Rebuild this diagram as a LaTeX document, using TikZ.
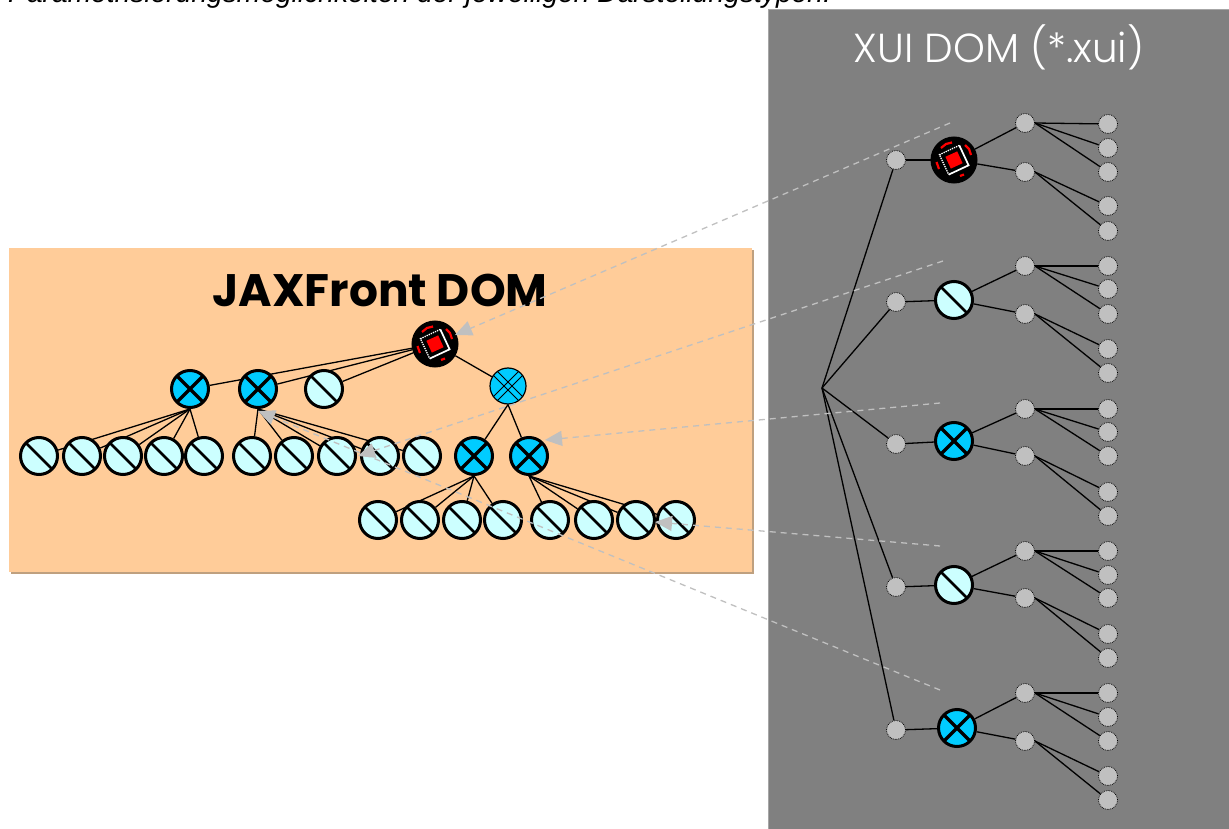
\documentclass[tikz,border=0pt]{standalone}
\usepackage{fontspec}
\setmainfont{Liberation Sans}
\newfontfamily\headfont{Poppins}
\newfontfamily\panelfont{Poppins Light}
\usetikzlibrary{arrows.meta}
\pgfdeclarelayer{back}
\pgfdeclarelayer{edge}
\pgfdeclarelayer{top}
\pgfsetlayers{back,edge,main,top}
\definecolor{peach}{HTML}{FFCC99}
\definecolor{peachshadow}{HTML}{BFA07F}
\definecolor{panelgray}{HTML}{808080}
\definecolor{paneledge}{HTML}{A6A6A6}
\definecolor{pale}{HTML}{CCFFFF}
\definecolor{sky}{HTML}{00CCFF}
\definecolor{dotgray}{HTML}{C0C0C0}
\tikzset{
  x=1pt,y=-1pt,
  roundn/.style={circle,inner sep=0pt,minimum size=37pt,draw=black,line width=3pt},
  slashn/.style={roundn,fill=pale,path picture={
    \begin{scope}[shift={(path picture bounding box.center)}]
      \draw[line width=2.6pt] (-13pt,13pt)--(13pt,-13pt);
    \end{scope}}},
  crossn/.style={roundn,fill=sky,path picture={
    \begin{scope}[shift={(path picture bounding box.center)}]
      \draw[line width=3.4pt] (-13pt,13pt)--(13pt,-13pt) (-13pt,-13pt)--(13pt,13pt);
    \end{scope}}},
  hatchn/.style={circle,inner sep=0pt,minimum size=36pt,draw=black,line width=1.2pt,fill=sky,path picture={
    \begin{scope}[shift={(path picture bounding box.center)}]
      \draw[line width=.8pt] (-16pt,12pt)--(12pt,-16pt) (-12pt,16pt)--(16pt,-12pt)
        (-16pt,-12pt)--(12pt,16pt) (-12pt,-16pt)--(16pt,12pt);
    \end{scope}}},
  rootn/.style={circle,inner sep=0pt,minimum size=44pt,draw=black,line width=3pt,fill=black,path picture={
    \begin{scope}[shift={(path picture bounding box.center)}]
      \draw[red,line width=2.2pt] (-13pt,12pt) -- (-8pt,16pt) -- (-2pt,17.5pt)
        (11pt,15pt) -- (15pt,11pt) -- (17pt,5pt)
        (-17.5pt,-2pt) -- (-15pt,-9pt)
        (6pt,-16pt) -- (10pt,-14.5pt);
      \draw[white,line width=1.7pt] (5.3pt,14.6pt) -- (14.6pt,-5.3pt) -- (-5.3pt,-14.6pt);
      \draw[white,line width=1.3pt,densely dotted] (5.3pt,14.6pt) -- (-14.6pt,5.3pt) -- (-5.3pt,-14.6pt);
      \fill[red] (3.2pt,8.6pt) -- (8.6pt,-3.2pt) -- (-3.2pt,-8.6pt) -- (-8.6pt,3.2pt) -- cycle;
    \end{scope}}},
  dotn/.style={circle,inner sep=0pt,minimum size=19pt,fill=dotgray,draw=black,line width=.8pt,densely dotted},
  treeline/.style={black,line width=1.3pt},
  linkarrow/.style={dotgray,line width=1.3pt,dash pattern=on 6pt off 5pt,
    -{Triangle[length=17pt,width=15pt,fill=dotgray]}},
  caption/.style={inner sep=0pt,anchor=base west},
}
\begin{document}
\begin{tikzpicture}
\useasboundingbox (0,0) rectangle (1229,829);
\clip (0,0) rectangle (1229,829);

\begin{pgfonlayer}{back}
  \fill[white] (0,0) rectangle (1229,829);
  \fill[peachshadow] (11,250) rectangle (754,574);
  \fill[peach] (9,248) rectangle (752,572);
  \fill[panelgray] (768,10) rectangle (1235,835);
  \draw[paneledge,line width=1pt] (768,835) -- (768,10) -- (1235,10);
\end{pgfonlayer}

\node[caption,font=\itshape\fontsize{28.2}{32}\selectfont] (cap) at (8,2.5)
  {Parametrisierungsmöglichkeiten der jeweiligen Darstellungstypen.};
\node[inner sep=0pt,font=\headfont\bfseries\fontsize{45.5}{50}\selectfont] (jax) at (380,290) {JAXFront DOM};
\node[inner sep=0pt,text=white,font=\panelfont\fontsize{40.5}{46}\selectfont] (xui) at (999,47) {XUI DOM (*.xui)};

% JAXFront tree
\node[rootn] (r) at (435,344) {};
\node[crossn] (a) at (190,389) {};
\node[crossn] (b) at (258,389) {};
\node[slashn] (c) at (324,389) {};
\node[hatchn] (d) at (508,386) {};
\foreach \n/\x in {1/39,2/82,3/123,4/164,5/204}
  \node[slashn] (a\n) at (\x,456) {};
\foreach \n/\x in {1/252,2/294,3/337,4/380,5/422}
  \node[slashn] (b\n) at (\x,456) {};
\node[crossn] (e) at (474,456) {};
\node[crossn] (f) at (529,456) {};
\foreach \n/\x in {1/378,2/420,3/462,4/503}
  \node[slashn] (e\n) at (\x,520) {};
\foreach \n/\x in {1/550,2/594,3/636,4/676}
  \node[slashn] (f\n) at (\x,520) {};

\begin{pgfonlayer}{edge}
  \foreach \t in {a,b,c,d} \draw[treeline] (r) -- (\t);
  \foreach \t in {e,f} \draw[treeline] (d.south) -- (\t);
  \foreach \n in {1,...,5} {
    \draw[treeline] (a.south) -- (a\n);
    \draw[treeline] (b.south) -- (b\n);
  }
  \foreach \n in {1,...,4} {
    \draw[treeline] (e.south) -- (e\n);
    \draw[treeline] (f.south) -- (f\n);
  }
\end{pgfonlayer}

% XUI tree
\coordinate (fork) at (822,388);
\foreach \n/\hy/\by/\bx/\st/\ma/\mb/\la/\lb/\lc/\ld/\le in {
  1/160/160/954/rootn/123/172/124/148/172/206/231,
  2/302/300/954/slashn/266/314/266/289/314/349/373,
  3/444/441/954/crossn/409/456/409/432/456/492/516,
  4/587/585/954/slashn/551/598/551/575/598/634/658,
  5/730/728/957/crossn/693/741/693/717/741/776/800} {
  \node[dotn] (h\n) at (896,\hy) {};
  \node[\st] (m\n) at (\bx,\by) {};
  \node[dotn] (p\n) at (1025,\ma) {};
  \node[dotn] (q\n) at (1025,\mb) {};
  \node[dotn] (l\n a) at (1108,\la) {};
  \node[dotn] (l\n b) at (1108,\lb) {};
  \node[dotn] (l\n c) at (1108,\lc) {};
  \node[dotn] (l\n d) at (1108,\ld) {};
  \node[dotn] (l\n e) at (1108,\le) {};
  \begin{pgfonlayer}{edge}
    \draw[treeline] (fork) -- (h\n);
    \draw[treeline] (h\n) -- (m\n);
    \draw[treeline] (m\n) -- (p\n);
    \draw[treeline] (m\n) -- (q\n);
    \draw[treeline] (p\n.east) -- (l\n a);
    \draw[treeline] (p\n.east) -- (l\n b);
    \draw[treeline] (p\n.east) -- (l\n c);
    \draw[treeline] (q\n.east) -- (l\n d);
    \draw[treeline] (q\n.east) -- (l\n e);
  \end{pgfonlayer}
}

% dashed links
\coordinate (s1) at (950,123);  \coordinate (t1) at (455,335);
\coordinate (s2) at (943,261);  \coordinate (t2) at (358,456);
\coordinate (s3) at (940,403);  \coordinate (t3) at (545,440);
\coordinate (s4) at (940,546);  \coordinate (t4) at (655,522);
\coordinate (s5) at (940,690);  \coordinate (t5) at (258,411);
\begin{pgfonlayer}{top}
  \foreach \n in {1,...,5} \draw[linkarrow] (s\n) -- (t\n);
\end{pgfonlayer}
\end{tikzpicture}
\end{document}
